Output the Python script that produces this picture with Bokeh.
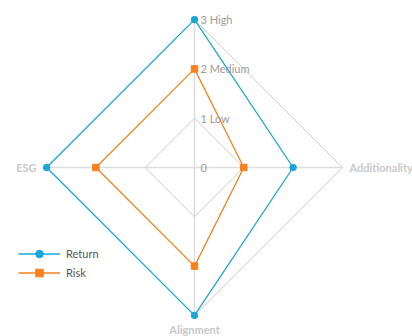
import numpy as np
from bokeh.plotting import figure
from bokeh.models import Range1d, Legend, LegendItem
from bokeh.core.properties import value
from bokeh.embed import file_html
from bokeh.resources import INLINE

# Radar axes, clockwise from the top spoke
axes = ["", "Additionality", "Alignment", "ESG"]
levels = [0, 1, 2, 3]
level_labels = ["0", "1 Low", "2 Medium", "3 High"]
grid_levels = [1, 3]

series_names = ["Return", "Risk"]
return_values = [3, 2, 3, 3]
risk_values = [2, 1, 2, 2]
colors = ["#1aa7d8", "#f5821f"]

FONT = "Lato"
W, H = 412, 336
cx_px, cy_px = 194, 167
unit_px = 49.3

p = figure(width=W, height=H, output_backend="svg", toolbar_location=None,
           min_border=0, outline_line_color=None,
           x_range=Range1d(-cx_px / unit_px, (W - cx_px) / unit_px),
           y_range=Range1d(-(H - cy_px) / unit_px, cy_px / unit_px))
p.axis.visible = False
p.grid.visible = False
p.background_fill_color = "white"
p.border_fill_color = "white"

n = len(axes)
angles = np.pi / 2 - np.arange(n) * 2 * np.pi / n


def to_xy(vals):
    v = np.asarray(vals, dtype=float)
    xs = list(v * np.cos(angles)) + [v[0] * np.cos(angles[0])]
    ys = list(v * np.sin(angles)) + [v[0] * np.sin(angles[0])]
    return xs, ys


# spokes
rmax = max(levels)
for a in angles:
    p.line([0, rmax * np.cos(a)], [0, rmax * np.sin(a)],
           line_color="#dddddd", line_width=1.5)

# grid diamonds
for g in grid_levels:
    gx, gy = to_xy([g] * n)
    p.line(gx, gy, line_color="#cccccc", line_width=1)

# level labels along the top spoke
p.text(x=[0] * len(levels), y=levels, text=level_labels,
       x_offset=6, text_baseline="middle", text_align="left",
       text_font=value(FONT), text_font_size="11px", text_color="#9a9a9a")

# axis category labels
ax_x = rmax * np.cos(angles)
ax_y = rmax * np.sin(angles)
p.text(x=[ax_x[1]], y=[ax_y[1]], text=[axes[1]], x_offset=7,
       text_baseline="middle", text_align="left", text_font=value(FONT),
       text_font_size="11px", text_font_style="bold", text_color="#c8c8c8")
p.text(x=[ax_x[2]], y=[ax_y[2]], text=[axes[2]], y_offset=14,
       text_baseline="middle", text_align="center", text_font=value(FONT),
       text_font_size="11px", text_font_style="bold", text_color="#c8c8c8")
p.text(x=[ax_x[3]], y=[ax_y[3]], text=[axes[3]], x_offset=-10,
       text_baseline="middle", text_align="right", text_font=value(FONT),
       text_font_size="11px", text_font_style="bold", text_color="#c8c8c8")

# series
items = []
for name, vals, col, marker in zip(series_names, [return_values, risk_values],
                                   colors, ["circle", "square"]):
    xs, ys = to_xy(vals)
    lr = p.line(xs, ys, line_color=col, line_width=1.3)
    sr = p.scatter(xs[:-1], ys[:-1], marker=marker, size=6.5,
                   fill_color=col, line_color=col)
    items.append(LegendItem(label=name, renderers=[lr, sr]))

legend = Legend(items=items, location=(18, 54), orientation="vertical",
                glyph_width=42, glyph_height=19, label_height=19,
                label_standoff=6, spacing=0, padding=0, margin=0,
                border_line_color=None, background_fill_alpha=0,
                label_text_font=FONT, label_text_font_size="11px",
                label_text_color="#555555")
p.add_layout(legend, "center")

open("out.html", "w").write(file_html(p, INLINE))
